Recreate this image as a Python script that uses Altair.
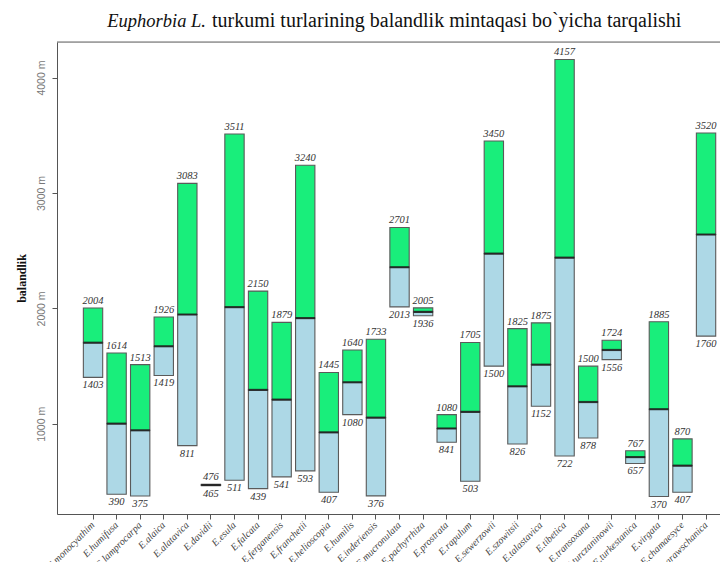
import altair as alt
import pandas as pd

species = ["E.monocyathim", "E.humifusa", "E.lamprocarpa", "E.alaica", "E.alatavica",
           "E.davidii", "E.esula", "E.falcata", "E.ferganensis", "E.franchetii",
           "E.helioscopia", "E.humilis", "E.inderiensis", "E.mucronulata", "E.pachyrrhiza",
           "E.prostrata", "E.rapulum", "E.sewerzowii", "E.szowitsii", "E.talastavica",
           "E.tibetica", "E.transoxana", "E.turczaninowii", "E.turkestanica", "E.virgata",
           "E.chamaesyce", "E.sarawschanica"]
max_alt = [2004, 1614, 1513, 1926, 3083, 476, 3511, 2150, 1879, 3240,
           1445, 1640, 1733, 2701, 2005, 1080, 1705, 3450, 1825, 1875,
           4157, 1500, 1724, 767, 1885, 870, 3520]
min_alt = [1403, 390, 375, 1419, 811, 465, 511, 439, 541, 593,
           407, 1080, 376, 2013, 1936, 841, 503, 1500, 826, 1152,
           722, 878, 1556, 657, 370, 407, 1760]
mid_alt = [1703, 1002, 944, 1672, 1947, 470, 2011, 1294, 1210, 1916,
           926, 1360, 1054, 2357, 1970, 960, 1104, 2475, 1325, 1513,
           2440, 1189, 1640, 712, 1127, 638, 2640]

df = pd.DataFrame({"sp": species, "mx": max_alt, "mn": min_alt, "md": mid_alt})

W, H = 663, 472
xs = alt.X("sp:N", sort=species, title=None,
           scale=alt.Scale(paddingInner=0.18, paddingOuter=0.65, align=0.86),
           axis=alt.Axis(labelAngle=-45, labelAlign="right", labelBaseline="middle",
                         labelFont="Liberation Serif", labelFontStyle="italic",
                         labelFontSize=10, labelColor="#444", labelPadding=4,
                         tickSize=5, tickColor="#555", domainColor="#555",
                         labelOverlap=False, labelBound=False))
yscale = alt.Scale(domain=[219, 4308], nice=False, zero=False)
yax = alt.Axis(values=[1000, 2000, 3000, 4000], labelExpr="datum.value + ' m'",
               labelAngle=270, labelAlign="center", labelBaseline="bottom",
               labelFont="Liberation Sans", labelFontSize=10.5, labelColor="#777",
               labelPadding=6, tickSize=5, tickColor="#555", domainColor="#555",
               grid=False, title="balandlik", titleFont="Liberation Serif",
               titleFontWeight="bold", titleFontSize=12, titleColor="#111",
               titlePadding=8)

base = alt.Chart(df)

low = base.mark_bar(color="#add8e6", stroke="#5a5a5a", strokeWidth=1.1).encode(
    x=xs, y=alt.Y("mn:Q", scale=yscale, axis=yax), y2="md:Q")
high = base.mark_bar(color="#19ee7b", stroke="#5a5a5a", strokeWidth=1.1).encode(
    x=xs, y=alt.Y("md:Q", scale=yscale), y2="mx:Q")
midline = base.mark_tick(color="#111", thickness=2.2, size=19.5).encode(
    x=xs, y=alt.Y("md:Q", scale=yscale))
top_lbl = base.mark_text(font="Liberation Serif", fontStyle="italic", fontSize=10.5,
                         color="#333", baseline="bottom", dy=-2).encode(
    x=xs, y=alt.Y("mx:Q", scale=yscale), text="mx:Q")
bot_lbl = base.mark_text(font="Liberation Serif", fontStyle="italic", fontSize=10.5,
                         color="#333", baseline="top", dy=3).encode(
    x=xs, y=alt.Y("mn:Q", scale=yscale), text="mn:Q")

topline = alt.Chart(pd.DataFrame({"a": [0]})).mark_rule(color="#666", strokeWidth=1).encode(
    x=alt.value(0), x2=alt.value(W), y=alt.value(0))

t1 = alt.Chart(pd.DataFrame({"t": ["Euphorbia L."]})).mark_text(
    font="Liberation Serif", fontStyle="italic", fontSize=18.5, align="right",
    baseline="alphabetic", color="#111").encode(
    x=alt.value(149), y=alt.value(-15), text="t:N")
t2 = alt.Chart(pd.DataFrame({"t": ["turkumi turlarining balandlik mintaqasi bo`yicha tarqalishi"]})).mark_text(
    font="Liberation Serif", fontSize=20, align="left",
    baseline="alphabetic", color="#111").encode(
    x=alt.value(155), y=alt.value(-15), text="t:N")

chart = alt.layer(low, high, midline, top_lbl, bot_lbl, topline, t1, t2).properties(
    width=W, height=H, autosize="none",
    padding={"left": 49, "top": 34, "right": 0, "bottom": 48}
).configure_view(stroke=None).configure(background="white")

chart.save("out.html", embed_options={"renderer": "svg", "actions": False})
